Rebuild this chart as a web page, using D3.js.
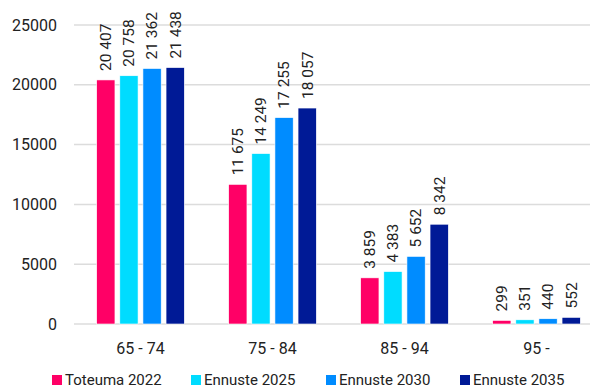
<!DOCTYPE html>
<html>
<head>
<meta charset="utf-8">
<script src="https://cdn.jsdelivr.net/npm/d3@7"></script>
<style>
  body { margin: 0; background: #fff; }
  svg text { font-family: Roboto, "Open Sans", sans-serif; fill: #222; }
</style>
</head>
<body>
<svg id="chart"></svg>
<script>
// Age groups, four series (actual 2022 and forecasts)
const categories = ["65 - 74", "75 - 84", "85 - 94", "95 -"];
const seriesNames = ["Toteuma 2022", "Ennuste 2025", "Ennuste 2030", "Ennuste 2035"];
const toteuma2022 = [20407, 11675, 3859, 299];
const ennuste2025 = [20758, 14249, 4383, 351];
const ennuste2030 = [21362, 17255, 5652, 440];
const ennuste2035 = [21438, 18057, 8342, 552];
const yTicks = [0, 5000, 10000, 15000, 20000, 25000];

(function () {
  const W = 592, H = 388;
  const COLORS = ["#ff0066", "#00dcff", "#008cff", "#001a96"];
  const GRID = "#dcdcdc";

  const series = [toteuma2022, ennuste2025, ennuste2030, ennuste2035];

  const svg = d3.select("#chart").attr("width", W).attr("height", H);

  const x = d3.scaleBand().domain(categories).range([74.5, 602.5]).paddingInner(0).paddingOuter(0);
  const y = d3.scaleLinear().domain([0, 25000]).range([324, 25]);

  const inner = d3.scaleBand().domain(d3.range(series.length))
    .range([0, x.bandwidth()]).paddingInner(0.21).paddingOuter(0.96);

  // gridlines
  svg.append("g").selectAll("line").data(yTicks).enter()
    .append("line")
    .attr("x1", 74).attr("x2", 590)
    .attr("y1", d => y(d)).attr("y2", d => y(d))
    .attr("stroke", GRID).attr("stroke-width", 1.5);

  // y tick labels
  svg.append("g").selectAll("text").data(yTicks).enter()
    .append("text")
    .attr("x", 57).attr("y", d => y(d)).attr("dy", "0.35em")
    .attr("text-anchor", "end").attr("font-size", 16)
    .text(d => d);

  const fmt = v => d3.format(",")(v).replace(/,/g, " ");

  // bars
  series.forEach((vals, si) => {
    const g = svg.append("g");
    g.selectAll("rect").data(vals).enter()
      .append("rect")
      .attr("x", (d, i) => x(categories[i]) + inner(si))
      .attr("width", inner.bandwidth())
      .attr("y", d => y(d))
      .attr("height", d => y(0) - y(d))
      .attr("fill", COLORS[si])
      .attr("stroke", "#fff").attr("stroke-width", 0.6);

    g.selectAll("text").data(vals).enter()
      .append("text")
      .attr("transform", (d, i) => {
        const cx = x(categories[i]) + inner(si) + inner.bandwidth() / 2;
        return `translate(${cx},${y(d) - 9}) rotate(-90)`;
      })
      .attr("dy", "0.35em")
      .attr("font-size", 15.5)
      .text(d => fmt(d));
  });

  // category labels
  svg.append("g").selectAll("text").data(categories).enter()
    .append("text")
    .attr("x", d => x(d) + x.bandwidth() / 2).attr("y", 348).attr("dy", "0.35em")
    .attr("text-anchor", "middle").attr("font-size", 16)
    .text(d => d);

  // legend
  const legendX = [52, 191, 326, 460];
  const lg = svg.append("g");
  seriesNames.forEach((name, i) => {
    lg.append("rect").attr("x", legendX[i]).attr("y", 375).attr("width", 10).attr("height", 10)
      .attr("fill", COLORS[i]);
    lg.append("text").attr("x", legendX[i] + 13).attr("y", 380).attr("dy", "0.35em")
      .attr("font-size", 15).text(name);
  });
})();
</script>
</body>
</html>
